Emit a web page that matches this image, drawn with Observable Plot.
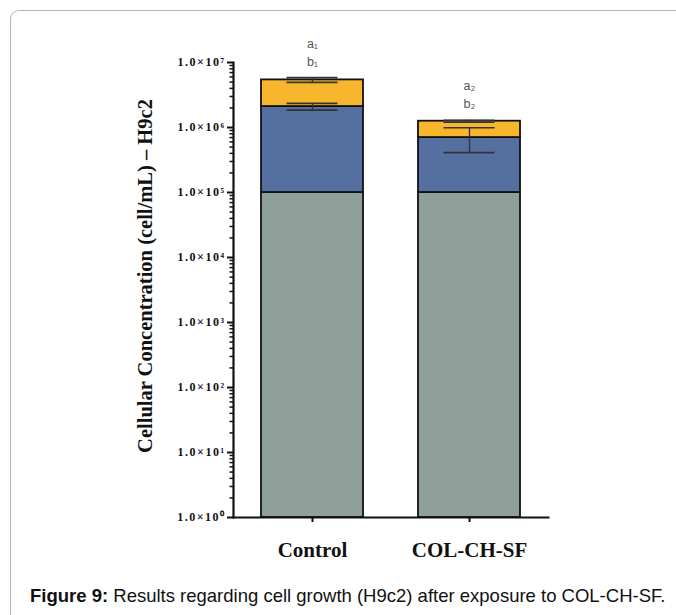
<!DOCTYPE html>
<html>
<head>
<meta charset="utf-8">
<script src="https://cdn.jsdelivr.net/npm/d3@7"></script>
<script src="https://cdn.jsdelivr.net/npm/@observablehq/plot@0.6"></script>
<style>
  html, body { margin: 0; padding: 0; background: #fff; width: 676px; height: 615px; overflow: hidden; }
  #wrap { position: relative; width: 676px; height: 615px; }
  #border { position: absolute; left: 10px; top: 10px; width: 720px; height: 700px;
            border-left: 1.5px solid #b4b4b4; border-top: 1.5px solid #b4b4b4; border-top-left-radius: 9px; }
  #chart { position: absolute; left: 0; top: 0; }
  #caption { position: absolute; left: 30px; top: 586px; font: 18.5px "Liberation Sans", Arial, sans-serif;
             color: #111; white-space: nowrap; line-height: 20px; }
  #chart g[aria-label="y-axis tick label"] text { letter-spacing: 1.5px; }
</style>
</head>
<body>
<div id="wrap">
  <div id="border"></div>
  <div id="chart"></div>
  <div id="caption"><b>Figure 9:</b> Results regarding cell growth (H9c2) after exposure to COL-CH-SF.</div>
</div>
<script>
// ---- data ----
const categories = ["Control", "COL-CH-SF"];
const grayTop = [1e5, 1e5];
const blueTop = [2.1e6, 7.0e5];
const orangeTop = [5.4e6, 1.25e6];
const blueErr = [2.5e5, 2.9e5];
const orangeErr = [4.5e5, 0.45e5];
const labelA = ["a\u2081", "a\u2082"];
const labelB = ["b\u2081", "b\u2082"];
const yTickValues = [1, 10, 100, 1e3, 1e4, 1e5, 1e6, 1e7];
const layerNames = ["base", "middle", "upper"];
const layerColors = ["#8fa09b", "#5570a0", "#f8b62c"];
const yTitle = "Cellular Concentration (cell/mL) \u2013 H9c2";

// ---- tables built from the arrays ----
const bars = [];
categories.forEach((c, i) => {
  bars.push({cat: c, layer: layerNames[0], y1: 1, y2: grayTop[i]});
  bars.push({cat: c, layer: layerNames[1], y1: grayTop[i], y2: blueTop[i]});
  bars.push({cat: c, layer: layerNames[2], y1: blueTop[i], y2: orangeTop[i]});
});
const errs = [];
categories.forEach((c, i) => {
  errs.push({cat: c, lo: blueTop[i] - blueErr[i], hi: blueTop[i] + blueErr[i]});
  errs.push({cat: c, lo: orangeTop[i] - orangeErr[i], hi: orangeTop[i] + orangeErr[i]});
});
const caps = errs.flatMap(e => [{cat: e.cat, v: e.lo}, {cat: e.cat, v: e.hi}]);
const annot = categories.map((c, i) => ({cat: c, top: orangeTop[i] + orangeErr[i], a: labelA[i], b: labelB[i]}));

const minorTicks = [];
for (let d = 0; d < 7; d++) for (let k = 2; k <= 9; k++) minorTicks.push(k * Math.pow(10, d));

const sup = "\u2070\u00b9\u00b2\u00b3\u2074\u2075\u2076\u2077\u2078\u2079";
const fmt = v => "1.0\u00d710" + sup[Math.round(Math.log10(v))];

const serif = "'Liberation Serif', 'Times New Roman', serif";
const sans = "'Liberation Sans', Arial, sans-serif";

const chart = Plot.plot({
  width: 676,
  height: 567,
  marginTop: 62,
  marginBottom: 50,
  marginLeft: 233,
  marginRight: 128,
  style: {fontFamily: serif, background: "transparent", overflow: "visible", color: "#111"},
  x: {domain: categories, paddingInner: 0.35, paddingOuter: 0.178, label: null},
  y: {type: "log", domain: [1, 1e7], label: null},
  color: {domain: layerNames, range: layerColors},
  marks: [
    Plot.barY(bars, {x: "cat", y1: "y1", y2: "y2", fill: "layer", stroke: "#111", strokeWidth: 1.8}),
    Plot.ruleX(errs, {x: "cat", y1: "lo", y2: "hi", stroke: "#333", strokeWidth: 1.4}),
    Plot.tickY(caps, {x: "cat", y: "v", insetLeft: 25.5, insetRight: 25.5, stroke: "#333", strokeWidth: 1.6}),
    Plot.text(annot, {x: "cat", y: "top", text: "a", dy: -34, fontFamily: sans, fontSize: 12.5, fill: "#555"}),
    Plot.text(annot, {x: "cat", y: "top", text: "b", dy: -16, fontFamily: sans, fontSize: 12.5, fill: "#555"}),
    Plot.axisY({ticks: minorTicks, tickSize: 3.5, tickFormat: () => "", label: null, strokeWidth: 1.5}),
    Plot.axisY({ticks: yTickValues, tickSize: 6, tickPadding: 2, tickFormat: fmt, label: null, fontSize: 12, fontWeight: "bold", strokeWidth: 2}),
    Plot.axisX({tickSize: 5, tickPadding: 20, fontSize: 21, fontWeight: "bold", label: null, strokeWidth: 2}),
    Plot.frame({anchor: "left", strokeWidth: 2.2}),
    Plot.frame({anchor: "bottom", strokeWidth: 2}),
    Plot.text([yTitle], {frameAnchor: "left", textAnchor: "middle", text: d => d, rotate: -90, dx: -88, dy: -14, fontSize: 20.5, fontWeight: "bold", fontFamily: serif})
  ]
});
document.getElementById("chart").appendChild(chart);
</script>
</body>
</html>
